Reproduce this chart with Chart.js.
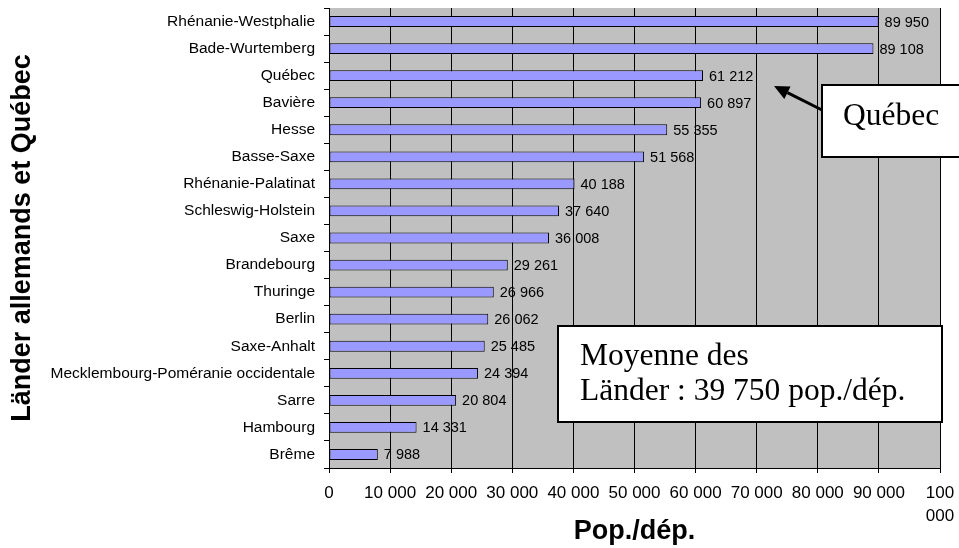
<!DOCTYPE html>
<html>
<head>
<meta charset="utf-8">
<script src="https://cdn.jsdelivr.net/npm/chart.js@4/dist/chart.umd.min.js"></script>
<style>
html,body{margin:0;padding:0;background:#ffffff;}
#c{display:block;}
</style>
</head>
<body>
<canvas id="c" width="959" height="548"></canvas>
<script>
// ---- data ----
const categories = [
  "Rhénanie-Westphalie", "Bade-Wurtemberg", "Québec", "Bavière", "Hesse",
  "Basse-Saxe", "Rhénanie-Palatinat", "Schleswig-Holstein", "Saxe", "Brandebourg",
  "Thuringe", "Berlin", "Saxe-Anhalt", "Mecklembourg-Poméranie occidentale",
  "Sarre", "Hambourg", "Brême"
];
const popParDep = [
  89950, 89108, 61212, 60897, 55355,
  51568, 40188, 37640, 36008, 29261,
  26966, 26062, 25485, 24394,
  20804, 14331, 7988
];
const xTickMin = 0;
const xTickMax = 100000;
const xTickStep = 10000;
const xAxisTitle = "Pop./dép.";
const yAxisTitle = "Länder allemands et Québec";
const quebecNote = ["Québec"];
const meanNote = ["Moyenne des", "Länder : 39 750 pop./dép."];

// ---- helpers ----
function fmt(v) {
  return String(v).replace(/\B(?=(\d{3})+(?!\d))/g, " ");
}
const SANS = "'Liberation Sans', Arial, sans-serif";
const SERIF = "'Liberation Serif', 'Times New Roman', serif";

const plotBg = {
  id: "plotBg",
  beforeDraw(chart) {
    const a = chart.chartArea, ctx = chart.ctx;
    ctx.save();
    ctx.fillStyle = "#C0C0C0";
    ctx.fillRect(a.left, a.top, a.right - a.left, a.bottom - a.top);
    ctx.restore();
  }
};

const valueLabels = {
  id: "valueLabels",
  afterDatasetsDraw(chart) {
    const ctx = chart.ctx;
    const meta = chart.getDatasetMeta(0);
    ctx.save();
    ctx.font = "14.5px " + SANS;
    ctx.fillStyle = "#000";
    ctx.textAlign = "left";
    ctx.textBaseline = "middle";
    meta.data.forEach((bar, i) => {
      ctx.fillText(fmt(chart.data.datasets[0].data[i]), bar.x + 6, bar.y + 1);
    });
    ctx.restore();
  }
};

function boxWithText(ctx, x, y, w, h, lines, tx, ty, lh) {
  ctx.fillStyle = "#fff";
  ctx.fillRect(x, y, w, h);
  ctx.lineWidth = 2;
  ctx.strokeStyle = "#000";
  ctx.strokeRect(x, y, w, h);
  ctx.fillStyle = "#000";
  ctx.font = "31.5px " + SERIF;
  ctx.textAlign = "left";
  ctx.textBaseline = "alphabetic";
  lines.forEach((t, i) => ctx.fillText(t, tx, ty + i * lh));
}

const notes = {
  id: "notes",
  afterDraw(chart) {
    const ctx = chart.ctx;
    ctx.save();
    // arrow
    const x1 = 822, y1 = 110, tx = 774, ty = 86;
    const ang = Math.atan2(ty - y1, tx - x1);
    const hl = 15, hw = 7;
    const bx = tx - hl * Math.cos(ang), by = ty - hl * Math.sin(ang);
    ctx.strokeStyle = "#000";
    ctx.lineWidth = 3;
    ctx.beginPath();
    ctx.moveTo(x1, y1);
    ctx.lineTo(bx, by);
    ctx.stroke();
    ctx.fillStyle = "#000";
    ctx.beginPath();
    ctx.moveTo(tx, ty);
    ctx.lineTo(bx + hw * Math.sin(ang), by - hw * Math.cos(ang));
    ctx.lineTo(bx - hw * Math.sin(ang), by + hw * Math.cos(ang));
    ctx.closePath();
    ctx.fill();
    // boxes
    boxWithText(ctx, 822, 85, 150, 72, quebecNote, 843, 125, 35);
    boxWithText(ctx, 558, 326, 384, 96, meanNote, 580, 365, 35);
    ctx.restore();
  }
};

new Chart(document.getElementById("c"), {
  type: "bar",
  data: {
    labels: categories,
    datasets: [{
      data: popParDep,
      backgroundColor: "#9999FF",
      borderColor: "#000000",
      borderWidth: 1,
      borderSkipped: false,
      categoryPercentage: 1.0,
      barPercentage: 0.4
    }]
  },
  options: {
    indexAxis: "y",
    responsive: false,
    animation: false,
    devicePixelRatio: 1,
    layout: { padding: { top: 8, right: 19, left: 0, bottom: 0 } },
    plugins: {
      legend: { display: false },
      tooltip: { enabled: false }
    },
    scales: {
      x: {
        min: xTickMin,
        max: xTickMax,
        ticks: {
          stepSize: xTickStep,
          autoSkip: false,
          maxRotation: 0,
          minRotation: 0,
          padding: 8,
          color: "#000",
          font: { family: SANS, size: 17, lineHeight: 1.4 },
          callback: (v) => v === xTickMax ? fmt(v).split(" ") : fmt(v)
        },
        grid: { color: "#000", lineWidth: 1, tickLength: 5, drawTicks: true },
        border: { color: "#000", width: 1 },
        title: {
          display: true,
          text: xAxisTitle,
          color: "#000",
          font: { family: SANS, size: 27, weight: "bold" },
          padding: { top: 0, bottom: 0 }
        },
        afterFit(scale) {
          scale.height = 80;
          scale.paddingLeft = 0;
          scale.paddingRight = 0;
        }
      },
      y: {
        offset: true,
        ticks: {
          autoSkip: false,
          padding: 9,
          color: "#000",
          font: { family: SANS, size: 15.5 }
        },
        grid: { offset: true, drawOnChartArea: false, color: "#000", tickLength: 5 },
        border: { color: "#000", width: 1 },
        title: {
          display: true,
          text: yAxisTitle,
          color: "#000",
          font: { family: SANS, size: 27, weight: "bold" },
          padding: { top: 6, bottom: 0 }
        },
        afterFit(scale) {
          scale.width = 329;
          scale.paddingTop = 0;
          scale.paddingBottom = 0;
        }
      }
    }
  },
  plugins: [plotBg, valueLabels, notes]
});
</script>
</body>
</html>
